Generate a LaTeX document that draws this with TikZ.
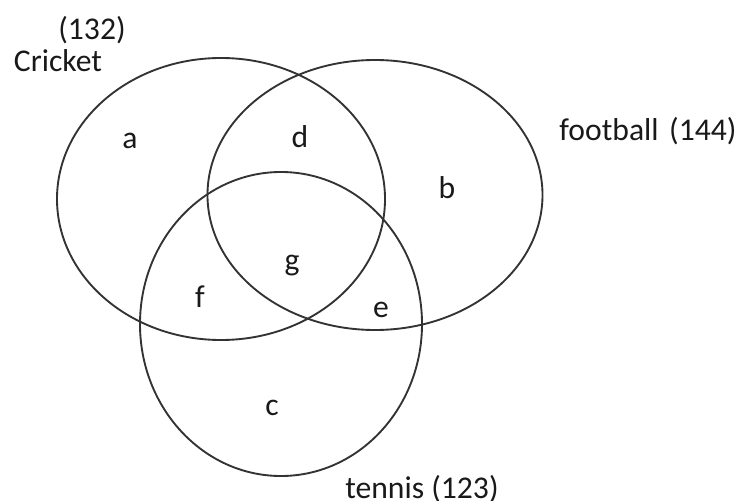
\documentclass[tikz,border=0pt]{standalone}
\usepackage{fontspec}
\setmainfont{Carlito}
\usetikzlibrary{shapes.geometric}
\tikzset{
  setc/.style={ellipse, draw=black!80, line width=1.6pt, inner sep=0pt, outer sep=0pt},
  zone/.style={font=\fontsize{27}{30}\selectfont, text=black!90},
  setlbl/.style={font=\fontsize{27}{30}\selectfont, text=black!90},
}
\begin{document}
\begin{tikzpicture}[x=0.03cm, y=-0.03cm]
\useasboundingbox (0,0) rectangle (745,501);

%% the three sets
\node[setc, minimum width=9.84cm, minimum height=8.46cm] (cricket) at (221,199) {};
\node[setc, minimum width=10.05cm, minimum height=8.1cm] (football) at (375,195) {};
\node[setc, minimum width=8.46cm, minimum height=9.12cm] (tennis) at (281,324) {};

%% set names
\node[setlbl] (ncount) at (92,30) {(132)};
\node[setlbl] (nname) at (58,61) {Cricket};
\node[setlbl] (fname) at (648,131) {football\,\,(144)};
\node[setlbl] (tname) at (422,489) {tennis (123)};

%% regions
\node[zone] (ra) at (130,141) {a};
\node[zone] (rd) at (300,137) {d};
\node[zone] (rb) at (447,188) {b};
\node[zone] (rg) at (292,266) {g};
\node[zone] (rf) at (200,297) {f};
\node[zone] (re) at (381,310) {e};
\node[zone] (rc) at (272,408) {c};

\end{tikzpicture}
\end{document}
